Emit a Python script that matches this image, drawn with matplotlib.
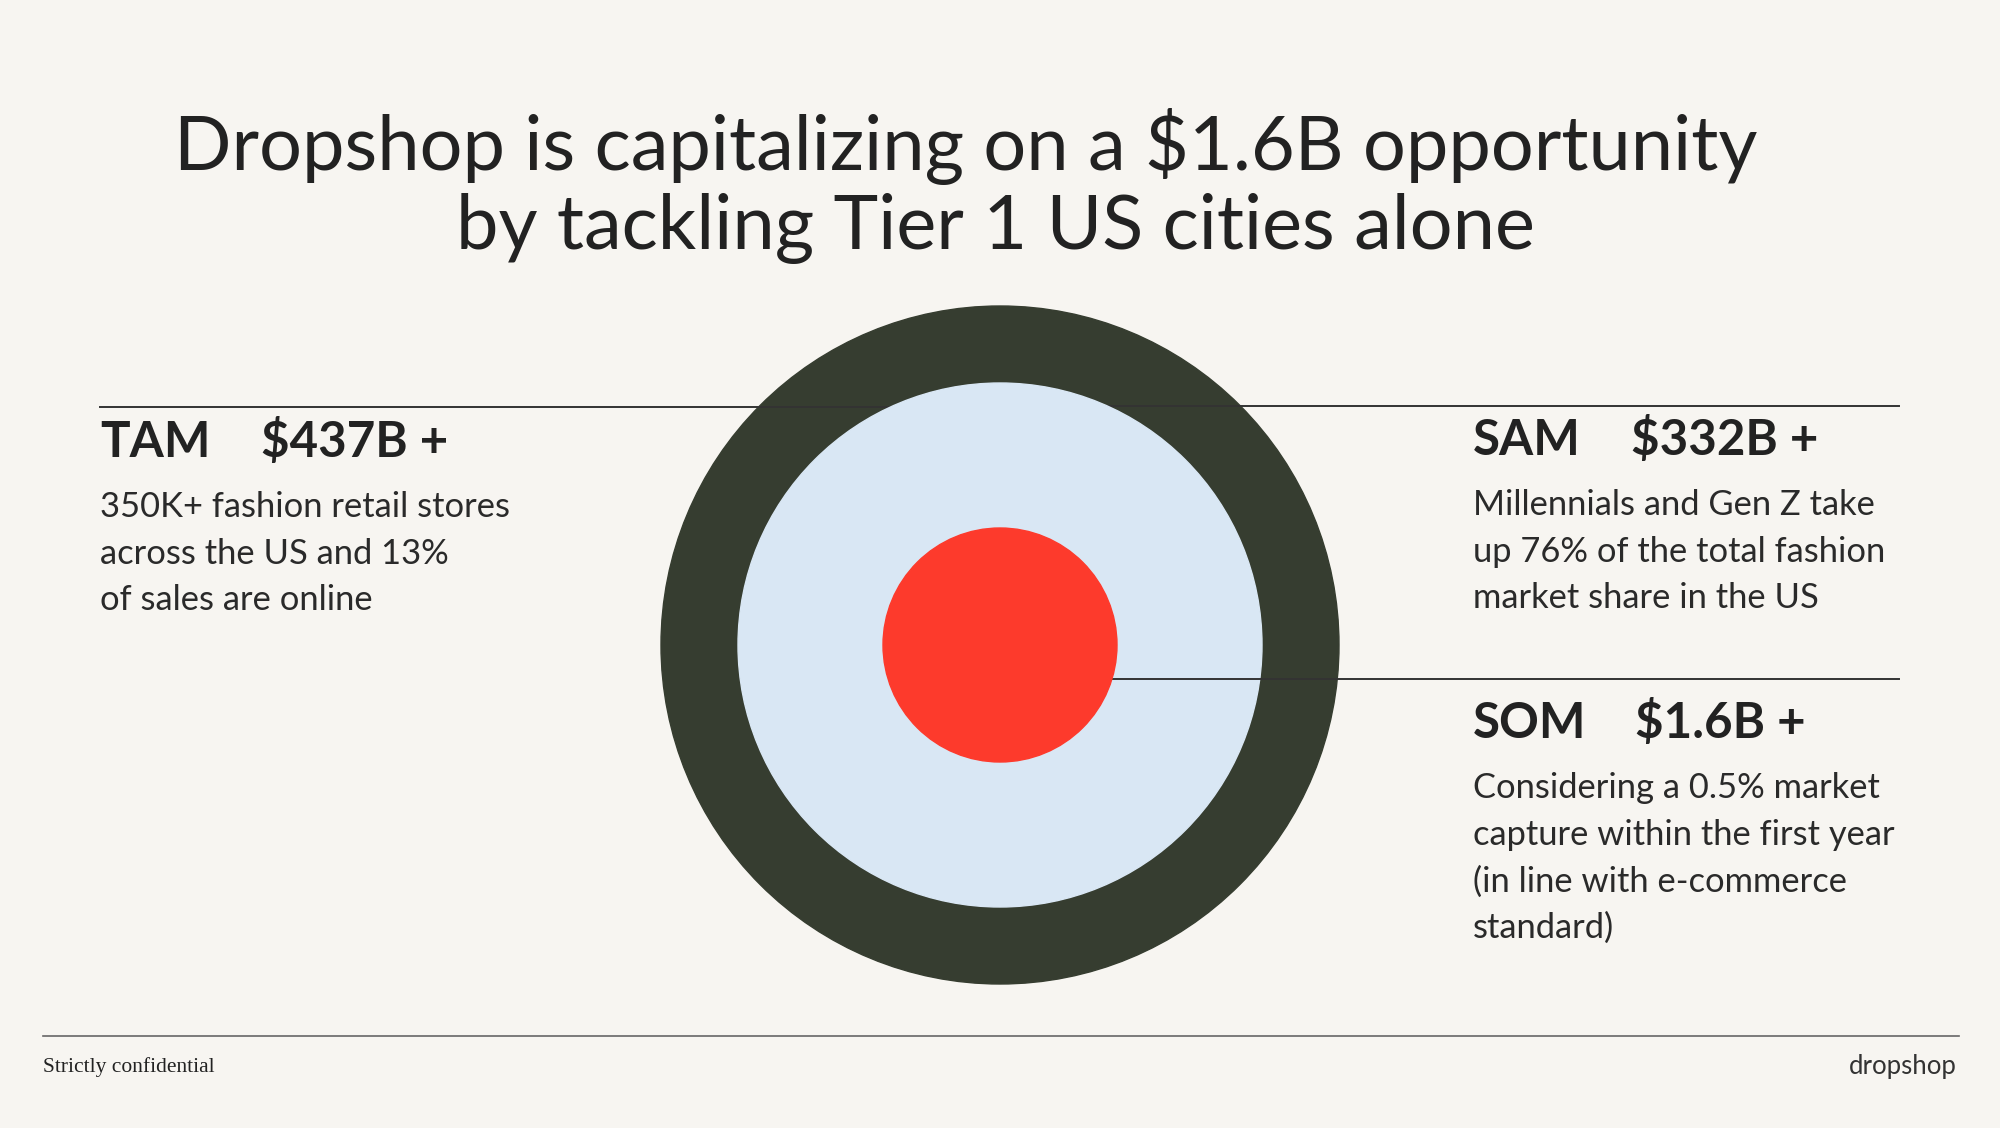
import matplotlib.pyplot as plt
from matplotlib.patches import Circle

# slide content
title_lines = [
    "Dropshop is capitalizing on a $1.6B opportunity",
    "by tackling Tier 1 US cities alone",
]
segments = ["TAM", "SAM", "SOM"]
segment_values = ["$437B +", "$332B +", "$1.6B +"]
segment_notes = [
    ["350K+ fashion retail stores", "across the US and 13%", "of sales are online"],
    ["Millennials and Gen Z take", "up 76% of the total fashion", "market share in the US"],
    ["Considering a 0.5% market", "capture within the first year",
     "(in line with e-commerce", "standard)"],
]
footer_left = "Strictly confidential"
footer_right = "dropshop"

BG = "#f7f5f1"
INK = "#222222"
RING = "#363d30"
BLUE = "#d9e7f4"
RED = "#fd3a2c"
SANS = ["Lato", "DejaVu Sans"]

W, H = 2000, 1128
fig = plt.figure(figsize=(W / 100, H / 100), dpi=100, facecolor=BG)
ax = fig.add_axes([0, 0, 1, 1])
ax.set_xlim(0, W)
ax.set_ylim(H, 0)
ax.set_aspect("equal")
ax.axis("off")
ax.set_facecolor(BG)

# title
title_pos = [(966, 170), (995, 249)]
for line, (tx, ty) in zip(title_lines, title_pos):
    ax.text(tx, ty, line, ha="center", va="baseline", fontsize=54.5,
            color=INK, family=SANS)

# target circles
cx, cy = 1000, 645
ax.add_patch(Circle((cx, cy), 339, color=RING, zorder=1))
ax.add_patch(Circle((cx, cy), 262, color=BLUE, zorder=3))
ax.add_patch(Circle((cx, cy), 117, color=RED, zorder=5))

# leader lines
ax.plot([100, cx], [407, 407], color="#333333", lw=1.4, zorder=2)
ax.plot([cx, 1899], [406, 406], color="#333333", lw=1.4, zorder=2)
ax.plot([cx, 1899], [679, 679], color="#333333", lw=1.4, zorder=4)

# text blocks
head_pos = [(100, 457), (1473, 455), (1473, 738)]
value_dx = [161, 158, 162]
line_gap = 46.7
for i, name in enumerate(segments):
    hx, hy = head_pos[i]
    ax.text(hx, hy, name, ha="left", va="baseline", fontsize=35.5,
            fontweight="bold", color=INK, family=SANS)
    ax.text(hx + value_dx[i], hy, segment_values[i], ha="left", va="baseline",
            fontsize=35.5, fontweight="bold", color=INK, family=SANS)
    for j, note in enumerate(segment_notes[i]):
        ax.text(hx, hy + 60 + j * line_gap, note, ha="left", va="baseline",
                fontsize=24.8, color="#2a2a2a", family=SANS)

# footer
ax.plot([43, 1959], [1036, 1036], color="#666666", lw=1.2)
ax.text(43, 1072, footer_left, ha="left", va="baseline", fontsize=15.5,
        color=INK, family=["Liberation Serif", "DejaVu Serif"])
ax.text(1957, 1074, footer_right, ha="right", va="baseline", fontsize=18.5,
        color="#333333", family=SANS)

fig.savefig("out.png", dpi=100, facecolor=BG)
